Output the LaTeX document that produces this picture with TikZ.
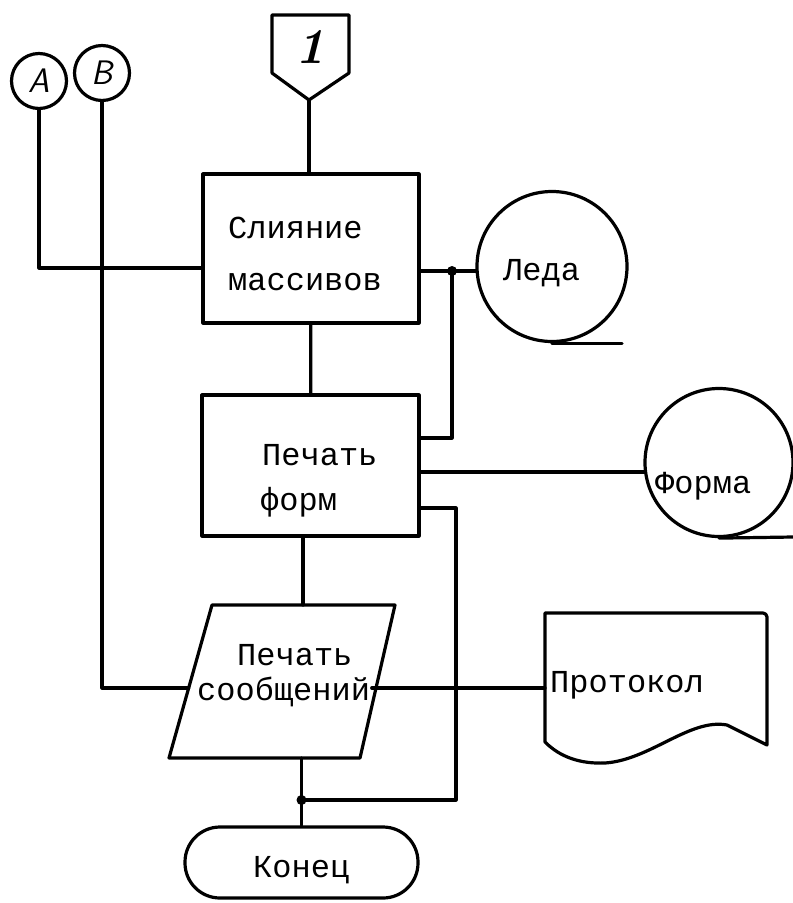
\documentclass[tikz,border=0pt]{standalone}
\usepackage{fontspec}
\newfontfamily\tw{Liberation Mono}
\usetikzlibrary{calc}
\tikzset{
  ln/.style={line width=3.2pt, line cap=round, line join=round},
  boxshape/.style={draw, ln, rectangle, inner sep=0pt},
  tape/.style={draw, ln, circle, inner sep=0pt},
  conn/.style={draw, ln, circle, inner sep=0pt, minimum size=55pt, font=\fontsize{34}{34}\selectfont\sffamily\itshape},
  term/.style={draw, ln, rectangle, rounded corners=35pt, inner sep=0pt},
  txt/.style={anchor=base west, inner sep=0pt, font=\tw\fontsize{32}{32}\selectfont},
  dotj/.style={fill=black}
}
\begin{document}
\begin{tikzpicture}[x=1pt,y=-1pt]
\useasboundingbox[fill=white] (0,0) rectangle (793,903);

% off-page connector "1"
\draw[ln] (272,15) -- (349,15) -- (349,73) -- (309,100) -- (272,73) -- cycle;
\node[inner sep=0pt, font=\fontsize{50}{50}\selectfont\bfseries\itshape] (one) at (310,47) {1};
\coordinate (c1) at (309,100);

% on-page connectors
\node[conn] (A) at (39,81) {A};
\node[conn] (B) at (102,73) {B};

% process boxes
\node[boxshape, minimum width=216pt, minimum height=149pt] (box1) at (311,248.5) {};
\node[boxshape, minimum width=217pt, minimum height=141pt] (box2) at (310.5,465.5) {};

% input/output (parallelogram)
\coordinate (pTL) at (212,605);
\coordinate (pTR) at (395,605);
\coordinate (pBR) at (360,758);
\coordinate (pBL) at (169,758);
\draw[ln] (pTL) -- (pTR) -- (pBR) -- (pBL) -- cycle;
\coordinate (pTop) at (303,605);
\coordinate (pBot) at (301.5,758);

% terminal
\node[term, minimum width=233pt, minimum height=71pt] (endn) at (301.5,862.5) {};

% tapes
\node[tape, minimum size=150pt] (leda) at (552,266.5) {};
\node[tape, minimum size=148pt] (forma) at (719,462.5) {};
\draw[ln] (leda.south) -- ++(70,0);
\draw[ln] (forma.south) -- (793,537);

% document
\draw[ln] (545,613) -- (763,613) to[out=0,in=90] (767,617) -- (767,745) -- (727,725)
  .. controls (690,718) and (650,760) .. (605,763)
  .. controls (580,764) and (560,757) .. (545,742) -- cycle;

% texts
\node[txt] (t1a) at (228,238) {Слияние};
\node[txt] (t1b) at (228,290) {массивов};
\node[txt] (t2a) at (262,465) {Печать};
\node[txt] (t2b) at (260,510) {форм};
\node[txt] (t3a) at (237,665) {Печать};
\node[txt] (t3b) at (197,700) {сообщений};
\node[txt] (t4) at (550,692) {Протокол};
\node[txt] (t5) at (503,280) {Леда};
\node[txt] (t6) at (655,493) {Форма};
\node[txt] (t7) at (253,877) {Конец};

% named points
\coordinate (j1) at (452,271);
\coordinate (j2) at (419,438);
\coordinate (j3) at (456,508);
\coordinate (j4) at (301.5,800);
\coordinate (j5) at (419,472);
\coordinate (a1) at (203,268);
\coordinate (pL) at (188.7,688);
\coordinate (pR) at (371.7,688);
\coordinate (docw) at (545,688);

% connectors
\draw[ln] (c1) -- (c1 |- box1.north);
\draw[ln] (A) -- (A |- a1) -- (a1);
\draw[ln] (B) -- (B |- pL) -- (pL);
\draw[ln] (box1) -- (box2);
\draw[ln] (pTop |- box2.south) -- (pTop);
\draw[ln] (pBot) -- (endn.north);
\draw[ln] (box1.east |- j1) -- (j1 -| leda.west);
\draw[ln] (j1) |- (j2);
\draw[ln] (j5) -- (j5 -| forma.west);
\draw[ln] (j3 -| box2.east) -- (j3) |- (j4);
\draw[ln] (pR) -- (docw);
\fill[dotj] (j1) circle (5);
\fill[dotj] (j4) circle (5);
\end{tikzpicture}
\end{document}
